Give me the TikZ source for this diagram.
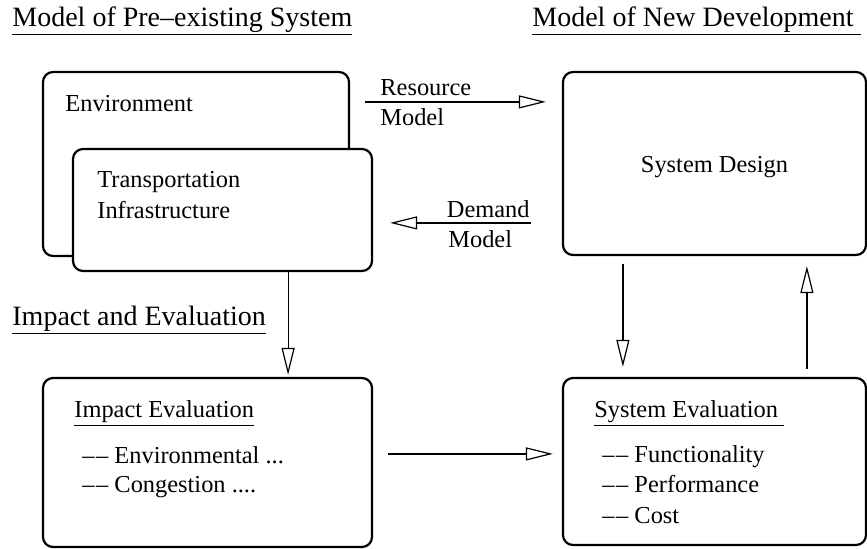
\documentclass[tikz,border=0pt]{standalone}
\usepackage{fontspec}
\setmainfont{Liberation Serif}
\usetikzlibrary{arrows.meta}
\usetikzlibrary{positioning}

\tikzset{
  box/.style={draw, line width=1.1pt, rounded corners=5pt, fill=white, inner sep=0pt},
  flow/.style={line width=0.6pt, -{Triangle[open,length=13.5pt,width=6.5pt,line width=0.6pt]}},
  txt/.style={anchor=base west, inner sep=0pt, font=\fontsize{12.2}{14}\selectfont},
  head/.style={anchor=base west, inner sep=0pt, font=\fontsize{14}{16}\selectfont}
}
\newcommand{\dd}{\textendash\kern0.8pt\textendash\ }

\begin{document}
\begin{tikzpicture}[x=0.5pt,y=-0.5pt]
  \useasboundingbox (0,0) rectangle (867,548);

  % Ueberschriften
  \node[head] (hpre) at (12,26) {\underline{Model of Pre--existing System}};
  \node[head] (hnew) at (532,26) {\underline{Model of New Development\ }};
  \node[head] (himp) at (12,325) {\underline{Impact and Evaluation}};

  % Kaesten
  \node[box, minimum width=153pt, minimum height=92pt] (env) at (196,164) {};
  \node[box, minimum width=149.5pt, minimum height=61pt] (trans) at (222.5,210) {};
  \node[box, minimum width=151.5pt, minimum height=91.5pt] (design) at (714.5,163.5) {};
  \node[box, minimum width=164.5pt, minimum height=84.5pt] (impact) at (207.5,462.5) {};
  \node[box, minimum width=151.5pt, minimum height=83.5pt] (syseval) at (714.5,461.5) {};

  % Texte in den Kaesten
  \node[txt] (tenv) at (65,111) {Environment};
  \node[txt] (ttrans) at (97,187) {Transportation};
  \node[txt] (tinfra) at (97,218) {Infrastructure};
  \node[txt, anchor=base] (tdesign) at (714.5,172) {System Design};

  \node[txt] (timp) at (74,417) {\underline{Impact Evaluation}};
  \node[txt] (ienv) at (82,463) {\dd Environmental ...};
  \node[txt] (icong) at (82,492) {\dd Congestion ....};

  \node[txt] (tsys) at (594,417) {\underline{System Evaluation\ }};
  \node[txt] (sfun) at (602,462) {\dd Functionality};
  \node[txt] (sperf) at (602,492) {\dd Performance};
  \node[txt] (scost) at (602,523) {\dd Cost};

  % Pfeile
  \draw[flow] ([shift={(7.5pt,-15.5pt)}]env.north east) -- ([shift={(-8pt,-15.5pt)}]design.north west);
  \node[txt] (lres) at (380,95) {Resource};
  \node[txt] (lresm) at (380,125) {Model};

  \draw[flow] ([shift={(-15.5pt,-76pt)}]design.north west) -- ([shift={(8.5pt,-37.5pt)}]trans.north east);
  \node[txt, anchor=base east] (ldem) at (530,217) {Demand};
  \node[txt] (ldemm) at (448,247) {Model};

  \draw[flow, shorten >=1pt] ([xshift=-42.5pt]trans.south east) -- ([xshift=-42.5pt]trans.south east |- impact.north);
  \draw[flow, shorten <=4pt, shorten >=5pt] ([xshift=30.5pt]design.south west) -- ([xshift=30.5pt]design.south west |- syseval.north);
  \draw[flow, shorten <=4pt, shorten >=5pt] ([xshift=122.5pt]syseval.north west) -- ([xshift=122.5pt]syseval.north west |- design.south);
  \draw[flow, shorten <=7.5pt, shorten >=4.5pt] ([yshift=-38.5pt]impact.north east) -- ([yshift=-38.5pt]impact.north east -| syseval.west);
\end{tikzpicture}
\end{document}
